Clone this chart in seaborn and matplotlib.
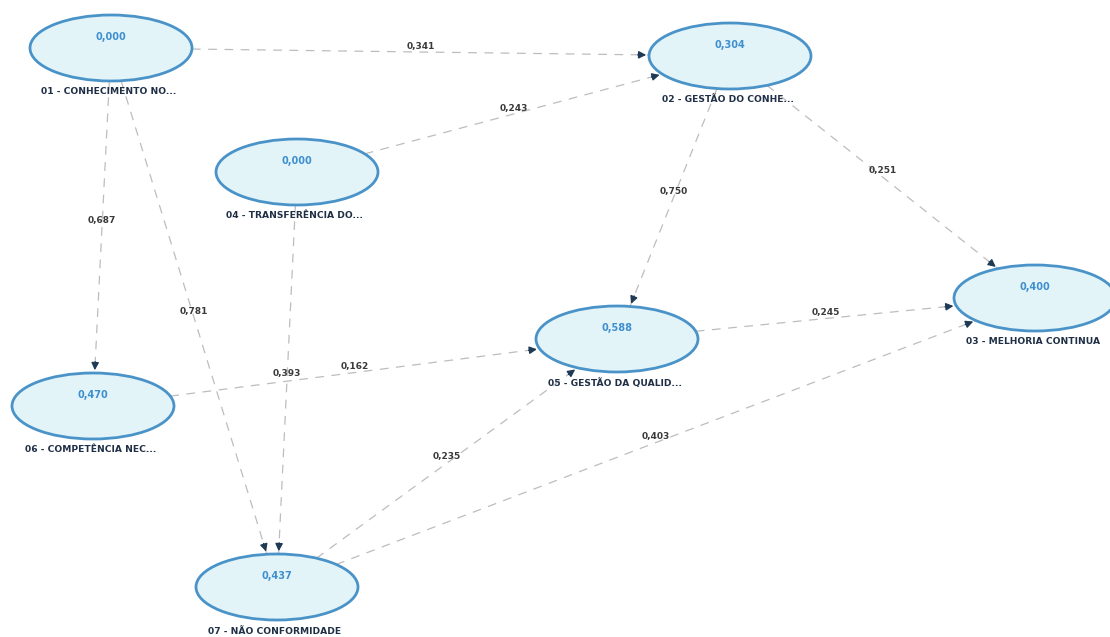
import numpy as np
import pandas as pd
import matplotlib
matplotlib.use("Agg")
import matplotlib.pyplot as plt
from matplotlib.patches import Ellipse
import seaborn as sns

# Constructs of the structural model and their R² values
node_ids = ["01", "02", "03", "04", "05", "06", "07"]
node_labels = [
    "01 - CONHECIMENTO NO...",
    "02 - GESTÃO DO CONHE...",
    "03 - MELHORIA CONTINUA",
    "04 - TRANSFERÊNCIA DO...",
    "05 - GESTÃO DA QUALID...",
    "06 - COMPETÊNCIA NEC...",
    "07 - NÃO CONFORMIDADE",
]
node_r2 = [0.000, 0.304, 0.400, 0.000, 0.588, 0.470, 0.437]

# Structural paths (source -> target) and their coefficients
path_from = ["01", "04", "01", "01", "04", "06", "07", "02", "02", "05", "07"]
path_to = ["02", "02", "06", "07", "07", "05", "05", "05", "03", "03", "03"]
path_coef = [0.341, 0.243, 0.687, 0.781, 0.393, 0.162, 0.235, 0.750, 0.251, 0.245, 0.403]

# Diagram layout (pixel canvas)
layout = {
    "01": (111, 48),
    "02": (730, 56),
    "03": (1035, 298),
    "04": (297, 172),
    "05": (617, 339),
    "06": (93, 406),
    "07": (277, 587),
}
EW, EH = 162, 66

sns.set_theme(style="white")
plt.rcParams["font.family"] = ["DejaVu Sans"]

fig = plt.figure(figsize=(11.10, 6.37), dpi=100)
ax = fig.add_axes([0, 0, 1, 1])
ax.set_xlim(0, 1110)
ax.set_ylim(637, 0)
ax.axis("off")


def boundary(c, toward):
    cx, cy = c
    dx, dy = toward[0] - cx, toward[1] - cy
    t = 1.0 / np.sqrt((dx / (EW / 2)) ** 2 + (dy / (EH / 2)) ** 2)
    return cx + dx * t, cy + dy * t


rows = []
ends = []
for k, (s, t) in enumerate(zip(path_from, path_to)):
    p0 = boundary(layout[s], layout[t])
    p1 = boundary(layout[t], layout[s])
    rows.append({"edge": k, "x": p0[0], "y": p0[1]})
    rows.append({"edge": k, "x": p1[0], "y": p1[1]})
    ends.append((p0, p1))
edges = pd.DataFrame(rows)

# Path lines
sns.lineplot(data=edges, x="x", y="y", units="edge", estimator=None,
             sort=False, color="#bdbdbd", linewidth=0.9, ax=ax,
             legend=False, zorder=1)
for line in ax.lines:
    line.set_dashes((7, 6))

# Arrowheads and coefficient labels
for (p0, p1), coef in zip(ends, path_coef):
    v = np.array(p1) - np.array(p0)
    v = v / np.linalg.norm(v)
    start = np.array(p1) - v * 14
    ax.annotate("", xy=p1, xytext=start,
                arrowprops=dict(arrowstyle="-|>", color="#1e3a55",
                                lw=1.0, mutation_scale=11), zorder=3)
    mx, my = (p0[0] + p1[0]) / 2, (p0[1] + p1[1]) / 2
    ax.text(mx, my - 6, f"{coef:.3f}".replace(".", ","), ha="center",
            va="center", fontsize=6.5, fontweight="bold", color="#3a3a3a",
            zorder=4)

# Construct ellipses
for nid, lab, r2 in zip(node_ids, node_labels, node_r2):
    cx, cy = layout[nid]
    ax.add_patch(Ellipse((cx, cy), EW, EH, facecolor="#e2f4f8",
                         edgecolor="#4a93c8", linewidth=2.0, zorder=2))
    ax.text(cx, cy - 11, f"{r2:.3f}".replace(".", ","), ha="center",
            va="center", fontsize=7, fontweight="bold", color="#3f8fcf",
            zorder=5)
    ax.text(cx - 2, cy + EH / 2 + 11, lab, ha="center", va="center",
            fontsize=6.6, fontweight="bold", color="#1f2f45", zorder=5)

fig.savefig("out.png", dpi=100, facecolor="white")
